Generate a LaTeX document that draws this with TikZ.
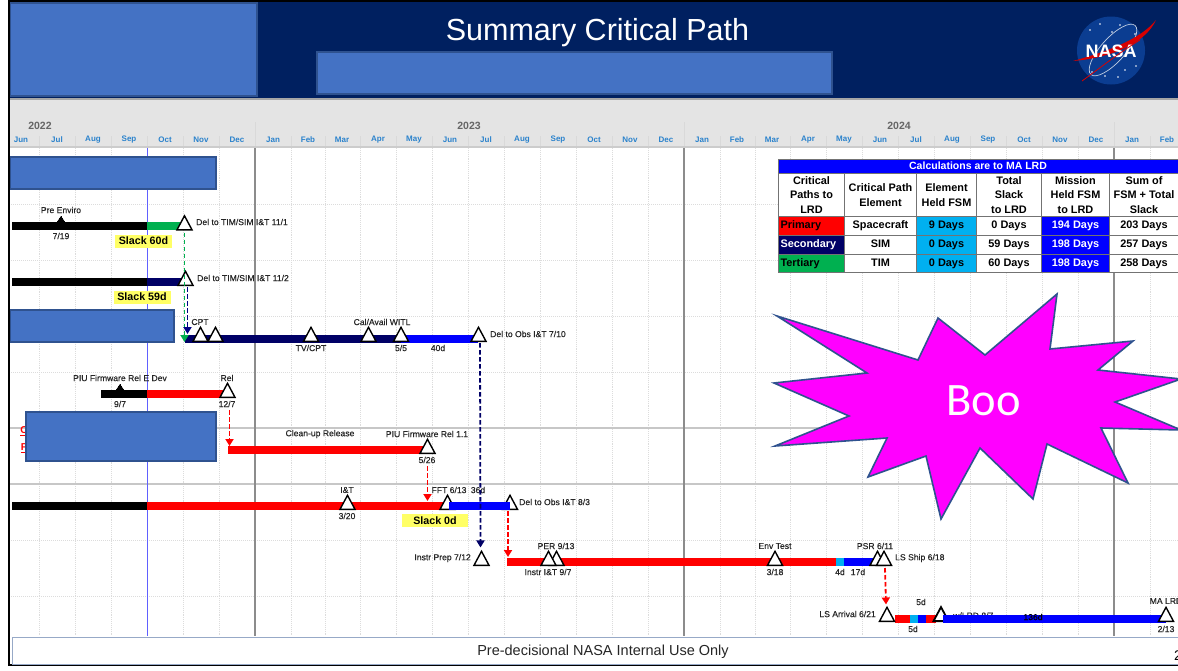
\documentclass[tikz,border=0pt]{standalone}
\usepackage{fontspec}
\setmainfont{Liberation Sans}
\newfontfamily\calibrifont{Carlito}
\newfontfamily\labelfont[FakeBold=0.3]{Liberation Sans}
\usetikzlibrary{shapes.geometric,arrows.meta,calc}
\definecolor{hdrnavy}{HTML}{002060}
\definecolor{boxblue}{HTML}{4472C4}
\definecolor{boxedge}{HTML}{2F528F}
\definecolor{monthc}{HTML}{2A82CC}
\definecolor{pathnavy}{HTML}{000066}
\definecolor{pathgreen}{HTML}{00B050}
\definecolor{pathcyan}{HTML}{00B0F0}
\definecolor{pureblue}{HTML}{0000FF}
\definecolor{todayblue}{HTML}{6060FF}
\definecolor{bandgray}{HTML}{E4E4E4}
\definecolor{gridc}{HTML}{DCDCDC}
\definecolor{nasablue}{HTML}{0B3D91}
\definecolor{slackc}{HTML}{FFFF66}
\definecolor{starfill}{HTML}{FF00FF}
\tikzset{
  x=1pt,y=-1pt,
  cover/.style={fill=boxblue,draw=boxedge,line width=1.8pt},
  mile/.style={shape=isosceles triangle,shape border rotate=90,isosceles triangle stretches,
    minimum width=15pt,minimum height=14pt,inner sep=0pt,anchor=lower side,draw=black,fill=white,line width=1.4pt},
  smile/.style={mile,fill=black,minimum width=8pt,minimum height=6pt,line width=0pt},
  lab/.style={font=\labelfont\fontsize{8.6}{9}\selectfont,text=black!85,inner sep=0pt},
  slack/.style={fill=slackc,font=\bfseries\fontsize{10.7}{11}\selectfont,inner sep=0pt,text=black},
  link/.style={line width=1.8pt,dash pattern=on 4.5pt off 2.5pt,-{Triangle[length=7pt,width=8pt]}},
  cell/.style={draw=black!55,line width=1pt,inner sep=0pt,align=center,
    font=\bfseries\fontsize{10.9}{14.2}\selectfont,anchor=north west},
  month/.style={font=\bfseries\fontsize{8}{8}\selectfont,text=monthc,inner sep=0pt},
  year/.style={font=\bfseries\fontsize{10.5}{10}\selectfont,text=black!60,inner sep=0pt},
}
\newcommand{\gbar}[4]{\fill[#1] (#2,#4) rectangle (#3,#4+8);}
\newcommand{\tcell}[7]{\node[cell,fill=#5,text=#6,minimum width=#3pt-#1pt,minimum height=#4pt-#2pt] at (#1,#2) {#7};}
\newcommand{\tcellL}[7]{\node[cell,fill=#5,text=#6,inner xsep=2pt,text width=#3pt-#1pt-4pt,align=left,minimum height=#4pt-#2pt] at (#1,#2) {#7};}
\begin{document}
\begin{tikzpicture}
\useasboundingbox (0,0) rectangle (1178,670);
\clip (0,0) rectangle (1178,670);
\fill[white] (0,0) rectangle (1178,670);
% header
\fill[hdrnavy] (9,2) rectangle (1178,98);
\fill[black] (8,0) rectangle (1178,2);
% calendar band
\fill[bandgray] (9,100) rectangle (1178,146);
\fill[black!35] (9,98) rectangle (1178,100);
\fill[black!20] (9,146) rectangle (1178,148);
% grid
\foreach \gx in {39,75,111,183,219,291,325,360,396,432,468,504,540,576,612,648,720,755,790,826,862,898,934,970,1006,1042,1078,1150}{
  \draw[gridc,line width=0.9pt,densely dotted] (\gx,148) -- (\gx,636);
  \draw[black!15,line width=0.6pt] (\gx,136) -- (\gx,146);
}
\draw[black!15,line width=0.6pt] (147,136) -- (147,146);
\foreach \gy in {204,260,316,372,540,596}{
  \draw[gridc,line width=1pt,densely dotted] (9,\gy) -- (1178,\gy);
}
\foreach \gy in {428,484}{
  \draw[black!22,line width=1.2pt] (9,\gy) -- (1178,\gy);
}
\foreach \gx in {255,684,1114}{
  \draw[black!45,line width=1.3pt] (\gx,148) -- (\gx,636);
  \draw[black!15,line width=0.6pt] (\gx,122) -- (\gx,146);
}
\draw[todayblue,line width=0.9pt] (147,148) -- (147,636);
% calendar text
\node[year] (y22) at (40,126) {2022};
\node[year] (y23) at (469,126) {2023};
\node[year] (y24) at (899,126) {2024};
\foreach \mx/\mn in {21/Jun,57/Jul,93/Aug,129/Sep,165/Oct,201/Nov,237/Dec,273/Jan,308/Feb,342/Mar,378/Apr,414/May,450/Jun,486/Jul,522/Aug,558/Sep,594/Oct,630/Nov,666/Dec,702/Jan,737/Feb,772/Mar,808/Apr,844/May,880/Jun,916/Jul,952/Aug,988/Sep,1024/Oct,1060/Nov,1096/Dec,1132/Jan,1167/Feb}{
  \node[month] at (\mx,140) {\mn};
}
% fragments under cover box
\node[font=\bfseries\fontsize{10}{10}\selectfont,text=red,inner sep=0pt] (frag1) at (24,431) {\underline{C}};
\node[font=\bfseries\fontsize{10}{10}\selectfont,text=red,inner sep=0pt] (frag2) at (24,448) {\underline{F}};
% row 1
\gbar{black}{12}{147}{222}
\gbar{pathgreen}{147}{184}{222}
\node[smile] (m1) at (61,222) {};
\node[mile] (t1) at (184.5,230.5) {};
\node[lab] at (61,210) {Pre Enviro};
\node[lab] at (61,236) {7/19};
\node[lab,anchor=west] at (196,222) {Del to TIM/SIM I\&T 11/1};
\node[slack,minimum width=57pt,minimum height=13pt] (s60) at (143.5,241) {Slack 60d};
% row 2
\gbar{black}{12}{147}{278}
\gbar{pathnavy}{147}{185}{278}
\node[mile] (t2) at (185.5,286) {};
\node[lab,anchor=west] at (197,278) {Del to TIM/SIM I\&T 11/2};
\node[slack,minimum width=57pt,minimum height=13pt] (s59) at (142,297) {Slack 59d};
% row 3
\gbar{pathnavy}{185}{401}{334.5}
\gbar{pureblue}{401}{478}{334.5}
\coordinate (r3) at (185,342);
\node[mile] (t3a) at (200.5,342) {};
\node[mile] (t3b) at (215.5,342) {};
\node[mile] (t3c) at (311,342) {};
\node[mile] (t3d) at (368.5,342) {};
\node[mile] (t3e) at (401,342) {};
\node[mile] (t3f) at (478.5,342) {};
\node[lab] at (200,322) {CPT};
\node[lab] at (311,348) {TV/CPT};
\node[lab] at (382,322) {Cal/Avail WITL};
\node[lab] at (401,348) {5/5};
\node[lab] at (438,348) {40d};
\node[lab,anchor=west] at (490,334) {Del to Obs I\&T 7/10};
% row 4
\gbar{black}{101}{147}{390}
\gbar{red}{147}{227}{390}
\node[smile] (m4) at (120,390) {};
\node[mile] (t4) at (227.5,398) {};
\node[lab] at (120,378) {PIU Firmware Rel E Dev};
\node[lab] at (120,404) {9/7};
\node[lab] at (227,378) {Rel};
\node[lab] at (227,404) {12/7};
% row 5
\gbar{red}{228}{427}{446}
\coordinate (r5) at (228,446);
\node[mile] (t5) at (427.5,454) {};
\node[lab] at (320,434) {Clean-up Release};
\node[lab] at (427,434) {PIU Firmware Rel 1.1};
\node[lab] at (427,460) {5/26};
% row 6
\gbar{black}{12}{147}{502}
\gbar{red}{147}{445}{502}
\node[mile] (t6a) at (347.5,510) {};
\node[mile] (t6b) at (447.5,510) {};
\node[mile] (t6c) at (510,510) {};
\fill[pureblue] (449,502) rectangle (510,510);
\node[lab] at (347,490) {I\&T};
\node[lab] at (347,516) {3/20};
\node[lab] at (449,490) {FFT 6/13};
\node[lab] at (478,490) {36d};
\node[lab,anchor=west] at (519,502) {Del to Obs I\&T 8/3};
\node[slack,minimum width=66pt,minimum height=13pt] (s0) at (435,520.5) {Slack 0d};
% row 7
\gbar{red}{507}{836}{558}
\gbar{pathcyan}{836}{844}{558}
\gbar{pureblue}{844}{878}{558}
\coordinate (r7) at (508,558);
\node[mile] (t7) at (481.5,566) {};
\node[mile] (t7b) at (556.5,566) {};
\node[mile] (t7a) at (548.5,566) {};
\node[mile] (t7c) at (775,566) {};
\node[mile] (t7d) at (877.5,566) {};
\node[mile] (t7e) at (884,566) {};
\node[lab,anchor=east] at (471,558) {Instr Prep 7/12};
\node[lab] at (556,546) {PER 9/13};
\node[lab] at (548,572) {Instr I\&T 9/7};
\node[lab] at (775,546) {Env Test};
\node[lab] at (775,572) {3/18};
\node[lab] at (840,572) {4d};
\node[lab] at (858,572) {17d};
\node[lab] at (875,546) {PSR 6/11};
\node[lab,anchor=west] at (895,558) {LS Ship 6/18};
% row 8
\node[lab,anchor=west] at (953,615.5) {w/LRD 8/7};
\gbar{red}{895}{910}{614.5}
\gbar{pathcyan}{910}{918}{614.5}
\gbar{pureblue}{918}{926}{614.5}
\gbar{red}{926}{936}{614.5}
\node[mile] (t8a) at (887,622) {};
\node[mile,line width=1.8pt] (t8b) at (941,622) {};
\gbar{pureblue}{943}{1166}{614.5}
\node[mile] (t8c) at (1166,622) {};
\node[lab,anchor=east] at (876,614) {LS Arrival 6/21};
\node[lab] at (921,602) {5d};
\node[lab] at (913,629) {5d};
\node[lab,text=black] at (1033,617) {136d};
\node[lab] at (1166,601) {MA LRD};
\node[lab] at (1166,629) {2/13};
% connectors
\draw[link,pathgreen] ($(t1.lower side)+(0,2)$) -- (t1.lower side |- r3);
\draw[link,pathnavy!80!blue] ($(t2.lower side)+(2,1)$) -- ($(t2.lower side |- r3)+(2,-8)$);
\draw[link,pathnavy] ($(t3f.lower side)+(1.5,1)$) -- ($(t7.apex)+(-1,-2)$);
\draw[link,red] ($(t4.lower side)+(2,12)$) -- ($(t4.lower side |- r5)+(2,0)$);
\draw[link,red] ($(t5.lower side)+(0,12)$) -- ($(t5.lower side)+(0,47)$);
\draw[link,red] ($(t6c.lower side)+(-2,1)$) -- ($(t6c.lower side |- r7)+(-2,-1)$);
\draw[link,red] ($(t7e.lower side)+(1,2)$) -- ($(t8a.apex)+(-1,-1)$);
% table
\tcell{778}{159}{1178}{173}{pureblue}{white}{}
\node[font=\bfseries\fontsize{10.5}{10}\selectfont,text=white,inner sep=0pt] (tabtitle) at (978,166) {Calculations are to MA LRD};
\tcell{778}{173}{844}{216}{white}{black}{Critical\\Paths to\\LRD}
\tcell{844}{173}{916}{216}{white}{black}{Critical Path\\Element}
\tcell{916}{173}{976}{216}{white}{black}{Element\\Held FSM}
\tcell{976}{173}{1041}{216}{white}{black}{Total\\Slack\\to LRD}
\tcell{1041}{173}{1109}{216}{white}{black}{Mission\\Held FSM\\to LRD}
\tcell{1109}{173}{1178}{216}{white}{black}{Sum of\\FSM + Total\\Slack}
\begin{scope}[every node/.append style={text height=7.5pt,text depth=2pt}]
\foreach \ya/\yb/\na/\cola/\txta/\el/\fsm/\tot/\mis/\sumd in {
  216/235/Primary/red/black/Spacecraft/9 Days/0 Days/194 Days/203 Days,
  235/254/Secondary/pathnavy/white/SIM/0 Days/59 Days/198 Days/257 Days,
  254/272/Tertiary/pathgreen/black/TIM/0 Days/60 Days/198 Days/258 Days}{
  \tcell{844}{\ya}{916}{\yb}{white}{black}{\el}
  \tcell{916}{\ya}{976}{\yb}{pathcyan}{black}{\fsm}
  \tcell{976}{\ya}{1041}{\yb}{white}{black}{\tot}
  \tcell{1041}{\ya}{1109}{\yb}{pureblue}{white}{\mis}
  \tcell{1109}{\ya}{1178}{\yb}{white}{black}{\sumd}
  \tcellL{778}{\ya}{844}{\yb}{\cola}{\txta}{\na}
}
\end{scope}
% cover boxes
\node[cover,anchor=north west,minimum width=247pt,minimum height=93pt,inner sep=0pt] (cov1) at (9,2) {};
\node[cover,anchor=north west,minimum width=515pt,minimum height=42pt,inner sep=0pt] (cov2) at (316,51) {};
\node[cover,anchor=north west,minimum width=206pt,minimum height=32pt,inner sep=0pt] (cov3) at (9,156) {};
\node[cover,anchor=north west,minimum width=164pt,minimum height=32pt,inner sep=0pt] (cov4) at (9,309) {};
\node[cover,anchor=north west,minimum width=190pt,minimum height=49pt,inner sep=0pt] (cov5) at (25,411) {};
\node[text=white,font=\fontsize{30.5}{31}\selectfont,inner sep=0pt] (title) at (597.5,33) {Summary Critical Path};
% star
\draw[fill=starfill,draw=boxedge,line width=1.6pt,line join=miter]
 (777,316) -- (918,360) -- (938,318) -- (985,355) -- (1057,294) -- (1050,349) -- (1133,341) -- (1098,370)
 -- (1181,379) -- (1115,402) -- (1181,430) -- (1101,428) -- (1128,483) -- (1047,444) -- (1033,499)
 -- (980,448) -- (941,519) -- (926,456) -- (868,477) -- (887,438) -- (775,446) -- (849,416) -- (774,383) -- (867,373) -- cycle;
\node[text=white,font=\calibrifont\fontsize{46.5}{46}\selectfont,inner sep=0pt] (boo) at (983.5,401) {Boo};
% NASA logo
\fill[nasablue] (1111,50.5) circle (34);
\foreach \sx/\sy in {1090/30,1100/24,1120/25,1135/34,1092/72,1105/76,1125/70,1136/66,1112/32,1118/77}{
  \fill[white] (\sx,\sy) circle (0.8);
}
\draw[white!75!nasablue,line width=0.7pt,rotate around={48:(1113,50)}] (1113,50) ellipse (33 and 12);
\fill[red!85!black] (1073,61) .. controls (1105,52) and (1140,40) .. (1156,20) .. controls (1145,44) and (1110,58) .. cycle;
\node[text=white,font=\bfseries\fontsize{18}{18}\selectfont,inner sep=0pt] (nasa) at (1111,51) {NASA};
\draw[red!85!black,line width=0.8pt] (1082,81) .. controls (1100,68) and (1120,52) .. (1140,40);
% footer
\fill[black] (8,2) rectangle (10,666);
\fill[black] (8,664) rectangle (1178,666);
\node[draw=boxedge!50,fill=white,line width=1.2pt,anchor=north west,minimum width=1170pt,minimum height=26.5pt,inner sep=0pt] (foot) at (12,637) {};
\node[font=\fontsize{14.5}{15}\selectfont,text=black!85,inner sep=0pt] (foottext) at (603,652) {Pre-decisional NASA Internal Use Only};
\node[font=\fontsize{14}{15}\selectfont,inner sep=0pt,anchor=west] (pagenum) at (1174,656) {2};
\end{tikzpicture}
\end{document}
